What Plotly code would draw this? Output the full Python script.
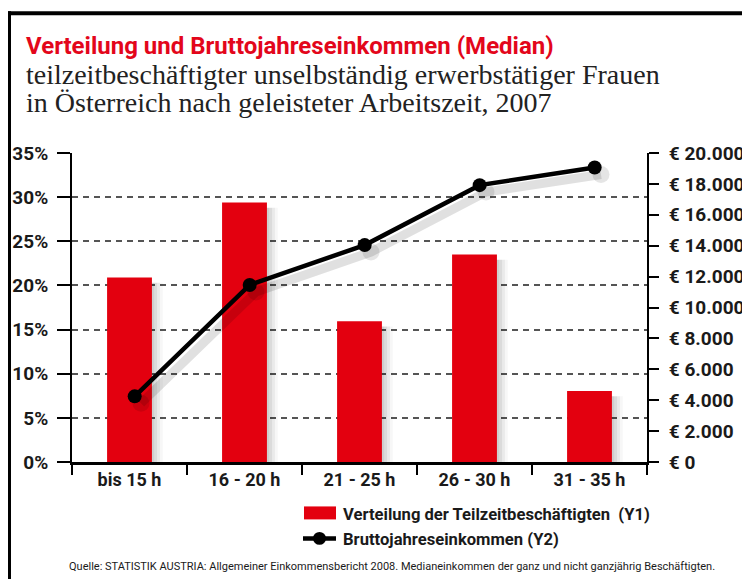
import plotly.graph_objects as go

categories = ["bis 15 h", "16 - 20 h", "21 - 25 h", "26 - 30 h", "31 - 35 h"]
share_pct = [20.9, 29.4, 15.95, 23.5, 8.05]
income_eur = [4250, 11460, 14040, 17920, 19060]

y1_ticks = [0, 5, 10, 15, 20, 25, 30, 35]
y1_ticktext = ["0%", "5%", "10%", "15%", "20%", "25%", "30%", "35%"]
y2_ticks = [0, 2000, 4000, 6000, 8000, 10000, 12000, 14000, 16000, 18000, 20000]
y2_ticktext = ["€ 0", "€ 2.000", "€ 4.000", "€ 6.000", "€ 8.000", "€ 10.000",
               "€ 12.000", "€ 14.000", "€ 16.000", "€ 18.000", "€ 20.000"]

title_main = "Verteilung und Bruttojahreseinkommen (Median)"
subtitle_1 = "teilzeitbeschäftigter unselbständig erwerbstätiger Frauen"
subtitle_2 = "in Österreich nach geleisteter Arbeitszeit, 2007"
legend_bar = "Verteilung der Teilzeitbeschäftigten  (Y1)"
legend_line = "Bruttojahreseinkommen (Y2)"
source_text = ("Quelle: STATISTIK AUSTRIA: Allgemeiner Einkommensbericht 2008. "
               "Medianeinkommen der ganz und nicht ganzjährig Beschäftigten.")

RED = "#e3000f"
SANS = "Roboto, Liberation Sans, sans-serif"
SERIF = "Liberation Serif, Times New Roman, serif"

# page body has an 8px margin, so the figure is laid out 8px up/left
OFF = 8
W, H = 750, 579
PL, PR, PT, PB = 72, 647, 153, 462.5      # plot area in screen pixels
L, R = PL - OFF, W - (PR - OFF)
T, B = PT - OFF, H - (PB - OFF)
PW, PH = PR - PL, PB - PT

def px(xs):
    return (xs - PL) / PW

def py(ys):
    return (PB - ys) / PH

fig = go.Figure()

# soft bar shadows (drawn first, same data, slightly shifted down/right)
for dx, alpha in [(0.02, 0.06), (0.045, 0.06), (0.07, 0.05), (0.095, 0.03)]:
    fig.add_trace(go.Bar(x=categories, y=share_pct, base=-0.6, width=0.39, offset=-0.195 + dx,
                         marker=dict(color=f"rgba(0,0,0,{alpha})", line=dict(width=0)),
                         showlegend=False, hoverinfo="skip"))

fig.add_trace(go.Bar(x=categories, y=share_pct, width=0.39, offset=-0.195,
                     marker=dict(color=RED, line=dict(width=0)),
                     name=legend_bar, showlegend=False))

# line shadow (lower layer) then line
fig.add_trace(go.Scatter(x=categories, y=income_eur, mode="lines+markers",
                         line=dict(color="rgba(0,0,0,0.12)", width=9),
                         marker=dict(size=17, color="rgba(0,0,0,0.10)"),
                         xaxis="x2", yaxis="y2", showlegend=False, hoverinfo="skip"))

fig.add_trace(go.Scatter(x=categories, y=income_eur, mode="lines+markers",
                         line=dict(color="black", width=4.5),
                         marker=dict(size=14, color="black"),
                         xaxis="x3", yaxis="y3", name=legend_line, showlegend=False))

tickfont = dict(family=SANS, size=19, color="#1a1a1a", weight="bold")
xtickfont = dict(family=SANS, size=18, color="#1a1a1a", weight="bold")

fig.update_layout(
    width=W, height=H,
    margin=dict(l=L, r=R, t=T, b=B, pad=0),
    paper_bgcolor="white", plot_bgcolor="white",
    barmode="overlay",
    showlegend=False,
    xaxis=dict(type="category", range=[-0.5, 4.5], tickson="boundaries", automargin=False,
               ticks="outside", ticklen=10, tickwidth=2, tickcolor="black",
               showline=True, linecolor="black", linewidth=2.5,
               showgrid=False, tickfont=xtickfont, zeroline=False),
    xaxis2=dict(type="category", overlaying="x", range=[-0.6, 4.4], visible=False, automargin=False),
    xaxis3=dict(type="category", overlaying="x", range=[-0.545, 4.455], visible=False, automargin=False),
    yaxis=dict(range=[0, 35], tickvals=y1_ticks, ticktext=y1_ticktext, automargin=False,
               ticks="outside", ticklen=13, tickwidth=2, tickcolor="black",
               showline=True, linecolor="black", linewidth=2,
               showgrid=True, gridcolor="#555555", gridwidth=1.5, griddash="6px,5px",
               zeroline=False, tickfont=tickfont, ticklabelstandoff=5),
    yaxis2=dict(range=[450, 20450], overlaying="y", visible=False, automargin=False),
    yaxis3=dict(range=[0, 20000], tickvals=y2_ticks, ticktext=y2_ticktext,
                overlaying="y", side="right", anchor="x", automargin=False,
                ticks="outside", ticklen=10, tickwidth=2, tickcolor="black",
                showline=True, linecolor="black", linewidth=2,
                showgrid=False, zeroline=False, tickfont=tickfont, ticklabelstandoff=6),
)

shapes = []
# frame
shapes.append(dict(type="line", xref="paper", yref="paper", x0=px(9), x1=px(9), y0=py(11), y1=py(600),
                   line=dict(color="black", width=4)))
shapes.append(dict(type="line", xref="paper", yref="paper", x0=px(7), x1=px(760), y0=py(13), y1=py(13),
                   line=dict(color="black", width=4)))
# legend swatches
shapes.append(dict(type="rect", xref="paper", yref="paper", x0=px(304), x1=px(336), y0=py(520), y1=py(507),
                   fillcolor=RED, line=dict(width=0)))
shapes.append(dict(type="line", xref="paper", yref="paper", x0=px(303), x1=px(336), y0=py(539), y1=py(539),
                   line=dict(color="black", width=4.5)))
shapes.append(dict(type="circle", xref="paper", yref="paper", x0=px(313), x1=px(326), y0=py(545.5), y1=py(532.5),
                   fillcolor="black", line=dict(width=0)))
fig.update_layout(shapes=shapes)

ann = []
ann.append(dict(text=title_main, xref="paper", yref="paper", x=px(24), y=py(46),
                xanchor="left", yanchor="middle", showarrow=False,
                font=dict(family=SANS, size=24, color="#e3061b", weight="bold")))
ann.append(dict(text=subtitle_1, xref="paper", yref="paper", x=px(24), y=py(74),
                xanchor="left", yanchor="middle", showarrow=False,
                font=dict(family=SERIF, size=28, color="#222222")))
ann.append(dict(text=subtitle_2, xref="paper", yref="paper", x=px(24), y=py(102),
                xanchor="left", yanchor="middle", showarrow=False,
                font=dict(family=SERIF, size=28, color="#222222")))
ann.append(dict(text=legend_bar, xref="paper", yref="paper", x=px(341), y=py(515),
                xanchor="left", yanchor="middle", showarrow=False,
                font=dict(family=SANS, size=16.6, color="#1a1a1a", weight="bold")))
ann.append(dict(text=legend_line, xref="paper", yref="paper", x=px(341), y=py(540),
                xanchor="left", yanchor="middle", showarrow=False,
                font=dict(family=SANS, size=16.6, color="#1a1a1a", weight="bold")))
ann.append(dict(text=source_text, xref="paper", yref="paper", x=px(392), y=py(567),
                xanchor="center", yanchor="middle", showarrow=False,
                font=dict(family=SANS, size=11, color="#1a1a1a")))
fig.update_layout(annotations=ann)

fig.write_html("out.html")
